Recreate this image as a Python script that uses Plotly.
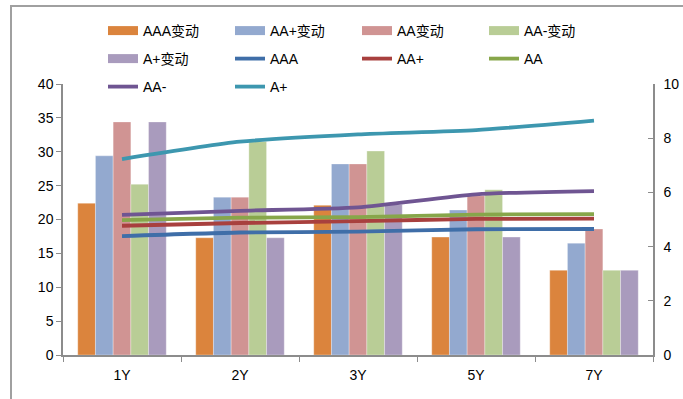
import plotly.graph_objects as go

categories = ["1Y", "2Y", "3Y", "5Y", "7Y"]

bar_names = ["AAA变动", "AA+变动", "AA变动", "AA-变动", "A+变动"]
bar_colors = ["#DB843D", "#93A9CF", "#D09493", "#B9CD96", "#A99BBD"]
aaa_chg = [22.4, 17.3, 22.1, 17.4, 12.5]
aap_chg = [29.4, 23.3, 28.2, 21.4, 16.5]
aa_chg = [34.4, 23.3, 28.2, 23.5, 18.6]
aam_chg = [25.2, 31.5, 30.1, 24.4, 12.5]
ap_chg = [34.4, 17.3, 22.2, 17.4, 12.5]
bar_values = [aaa_chg, aap_chg, aa_chg, aam_chg, ap_chg]

line_names = ["AAA", "AA+", "AA", "AA-", "A+"]
line_colors = ["#3F6EA8", "#A8403E", "#87A64A", "#6F5592", "#3D97AF"]
aaa = [4.39, 4.52, 4.55, 4.64, 4.65]
aap = [4.77, 4.87, 4.94, 5.02, 5.03]
aa = [4.98, 5.07, 5.09, 5.18, 5.20]
aam = [5.17, 5.32, 5.45, 5.93, 6.05]
ap = [7.23, 7.87, 8.14, 8.30, 8.65]
line_values = [aaa, aap, aa, aam, ap]

# legend row assignment (Excel-like 3 rows x 4 columns)
legend_of = {
    "AAA变动": "legend", "AA+变动": "legend", "AA变动": "legend", "AA-变动": "legend",
    "A+变动": "legend2", "AAA": "legend2", "AA+": "legend2", "AA": "legend2",
    "AA-": "legend3", "A+": "legend3",
}

font_family = "Liberation Sans, Arial, Noto Sans CJK SC"

fig = go.Figure()

for name, color, vals in zip(bar_names, bar_colors, bar_values):
    fig.add_trace(go.Bar(
        x=categories, y=vals, name=name, marker_color=color,
        marker_line=dict(color="rgba(255,255,255,0.6)", width=0.5),
        showlegend=False, yaxis="y",
    ))
    # legend proxy with wide rectangular swatch
    fig.add_trace(go.Scatter(
        x=[None], y=[None], mode="lines", name=name,
        line=dict(color=color, width=9), legend=legend_of[name], yaxis="y",
    ))

for name, color, vals in zip(line_names, line_colors, line_values):
    fig.add_trace(go.Scatter(
        x=categories, y=vals, name=name, mode="lines",
        line=dict(color=color, width=3.8, shape="spline", smoothing=0.6),
        yaxis="y2", legend=legend_of[name],
    ))

leg_common = dict(
    orientation="h", xref="container", yref="container",
    xanchor="left", yanchor="middle",
    entrywidth=82, entrywidthmode="pixels",
    bgcolor="rgba(0,0,0,0)", font=dict(family=font_family, size=14, color="#000"),
    tracegroupgap=0, itemclick=False,
)

fig.update_layout(
    width=683, height=399,
    margin=dict(l=63, r=30, t=84, b=44, autoexpand=False),
    paper_bgcolor="white", plot_bgcolor="white",
    barmode="group", bargap=0.25, bargroupgap=0,
    font=dict(family=font_family, size=14, color="#000"),
    xaxis=dict(
        type="category", showline=True, linecolor="#8C8C8C", linewidth=1.5,
        ticks="outside", ticklen=5, tickcolor="#8C8C8C", tickson="boundaries",
        showgrid=False, tickfont=dict(size=14), ticklabelstandoff=6,
    ),
    yaxis=dict(
        range=[0, 40], dtick=5, showline=True, linecolor="#8C8C8C", linewidth=1.5,
        ticks="outside", ticklen=5, tickcolor="#8C8C8C", showgrid=False,
        zeroline=False, tickfont=dict(size=14),
    ),
    yaxis2=dict(
        range=[0, 10], dtick=2, overlaying="y", side="right",
        showline=True, linecolor="#8C8C8C", linewidth=1.5,
        ticks="inside", ticklen=5, tickcolor="#8C8C8C", showgrid=False,
        zeroline=False, tickfont=dict(size=14), ticklabelstandoff=6,
    ),
    legend=dict(leg_common, x=103 / 683, y=1 - 31 / 399),
    legend2=dict(leg_common, x=103 / 683, y=1 - 59 / 399),
    legend3=dict(leg_common, x=103 / 683, y=1 - 87 / 399),
    shapes=[dict(
        type="rect", xref="paper", yref="paper",
        x0=(11 - 63) / 590, x1=(700 - 63) / 590,
        y0=(44 - 420) / 271, y1=(399 - 6 - 44) / 271,
        line=dict(color="#A0A0A0", width=2), fillcolor="rgba(0,0,0,0)",
        layer="below",
    )],
    showlegend=True,
)

fig.write_html("out.html")
